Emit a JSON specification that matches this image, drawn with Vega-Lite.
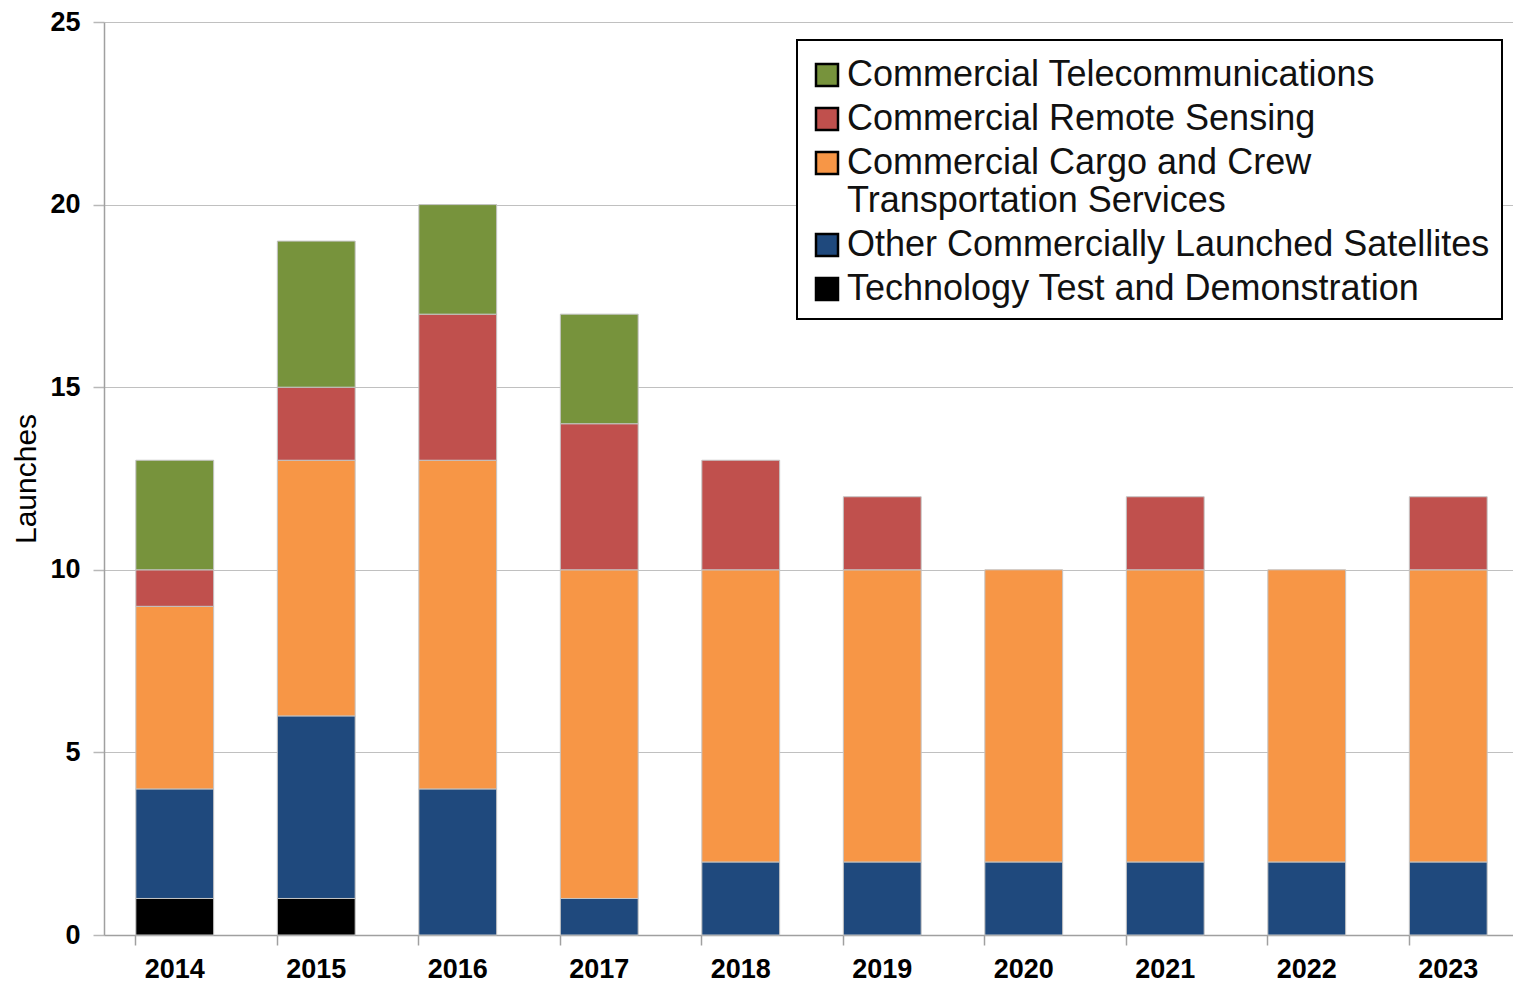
{
  "$schema": "https://vega.github.io/schema/vega-lite/v6.json",
  "autosize": "none",
  "width": 1415,
  "height": 913,
  "padding": {"left": 104, "top": 22, "right": 0, "bottom": 47},
  "background": "white",
  "config": {
    "font": "Liberation Sans",
    "view": {"stroke": null},
    "legend": {"strokeWidth": 2}
  },
  "data": {
    "values": [
      {"year": "2014", "category": "Technology Test and Demonstration", "launches": 1},
      {"year": "2014", "category": "Other Commercially Launched Satellites", "launches": 3},
      {"year": "2014", "category": "Commercial Cargo and Crew Transportation Services", "launches": 5},
      {"year": "2014", "category": "Commercial Remote Sensing", "launches": 1},
      {"year": "2014", "category": "Commercial Telecommunications", "launches": 3},
      {"year": "2015", "category": "Technology Test and Demonstration", "launches": 1},
      {"year": "2015", "category": "Other Commercially Launched Satellites", "launches": 5},
      {"year": "2015", "category": "Commercial Cargo and Crew Transportation Services", "launches": 7},
      {"year": "2015", "category": "Commercial Remote Sensing", "launches": 2},
      {"year": "2015", "category": "Commercial Telecommunications", "launches": 4},
      {"year": "2016", "category": "Other Commercially Launched Satellites", "launches": 4},
      {"year": "2016", "category": "Commercial Cargo and Crew Transportation Services", "launches": 9},
      {"year": "2016", "category": "Commercial Remote Sensing", "launches": 4},
      {"year": "2016", "category": "Commercial Telecommunications", "launches": 3},
      {"year": "2017", "category": "Other Commercially Launched Satellites", "launches": 1},
      {"year": "2017", "category": "Commercial Cargo and Crew Transportation Services", "launches": 9},
      {"year": "2017", "category": "Commercial Remote Sensing", "launches": 4},
      {"year": "2017", "category": "Commercial Telecommunications", "launches": 3},
      {"year": "2018", "category": "Other Commercially Launched Satellites", "launches": 2},
      {"year": "2018", "category": "Commercial Cargo and Crew Transportation Services", "launches": 8},
      {"year": "2018", "category": "Commercial Remote Sensing", "launches": 3},
      {"year": "2019", "category": "Other Commercially Launched Satellites", "launches": 2},
      {"year": "2019", "category": "Commercial Cargo and Crew Transportation Services", "launches": 8},
      {"year": "2019", "category": "Commercial Remote Sensing", "launches": 2},
      {"year": "2020", "category": "Other Commercially Launched Satellites", "launches": 2},
      {"year": "2020", "category": "Commercial Cargo and Crew Transportation Services", "launches": 8},
      {"year": "2021", "category": "Other Commercially Launched Satellites", "launches": 2},
      {"year": "2021", "category": "Commercial Cargo and Crew Transportation Services", "launches": 8},
      {"year": "2021", "category": "Commercial Remote Sensing", "launches": 2},
      {"year": "2022", "category": "Other Commercially Launched Satellites", "launches": 2},
      {"year": "2022", "category": "Commercial Cargo and Crew Transportation Services", "launches": 8},
      {"year": "2023", "category": "Other Commercially Launched Satellites", "launches": 2},
      {"year": "2023", "category": "Commercial Cargo and Crew Transportation Services", "launches": 8},
      {"year": "2023", "category": "Commercial Remote Sensing", "launches": 2}
    ]
  },
  "transform": [
    {"calculate": "datum.category == 'Technology Test and Demonstration' ? 0 : datum.category == 'Other Commercially Launched Satellites' ? 1 : datum.category == 'Commercial Cargo and Crew Transportation Services' ? 2 : datum.category == 'Commercial Remote Sensing' ? 3 : 4", "as": "stackOrder"}
  ],
  "mark": {"type": "bar", "stroke": "#c4c4c4", "strokeWidth": 1},
  "encoding": {
    "x": {
      "field": "year",
      "type": "nominal",
      "scale": {"paddingInner": 0.45, "paddingOuter": 0.225},
      "axis": {
        "title": null,
        "labelAngle": 0,
        "labelFont": "Liberation Sans",
        "labelFontWeight": "bold",
        "labelFontSize": 27,
        "labelColor": "#000000",
        "labelPadding": 11,
        "tickSize": 10,
        "tickColor": "#a0a0a0",
        "tickWidth": 1.5,
        "bandPosition": 0,
        "domainColor": "#a0a0a0",
        "domainWidth": 1.5,
        "grid": false
      }
    },
    "y": {
      "field": "launches",
      "type": "quantitative",
      "stack": "zero",
      "scale": {"domain": [0, 25], "nice": false},
      "axis": {
        "title": "Launches",
        "titleFont": "Liberation Sans",
        "titleFontSize": 30,
        "titleFontWeight": "normal",
        "titleColor": "#000000",
        "titlePadding": 8,
        "values": [0, 5, 10, 15, 20, 25],
        "labelFont": "Liberation Sans",
        "labelFontWeight": "bold",
        "labelFontSize": 27,
        "labelColor": "#000000",
        "labelPadding": 13,
        "tickSize": 11,
        "tickColor": "#b8b8b8",
        "tickWidth": 1.5,
        "domainColor": "#a0a0a0",
        "domainWidth": 1.5,
        "grid": true,
        "gridColor": "#c0c0c0",
        "gridWidth": 1.2
      }
    },
    "fill": {
      "field": "category",
      "type": "nominal",
      "scale": {
        "domain": ["Commercial Telecommunications", "Commercial Remote Sensing", "Commercial Cargo and Crew Transportation Services", "Other Commercially Launched Satellites", "Technology Test and Demonstration"],
        "range": ["#77933c", "#c0504d", "#f79646", "#1f497d", "#000000"]
      },
      "legend": {
        "title": " ",
        "titleFontSize": 1,
        "titlePadding": 4,
        "orient": "none",
        "legendX": 693,
        "legendY": 18,
        "direction": "vertical",
        "strokeColor": "#000000",
        "fillColor": "#ffffff",
        "padding": 12,
        "symbolType": "square",
        "symbolSize": 484,
        "symbolStrokeColor": "#000000",
        "symbolStrokeWidth": 2.5,
        "symbolOpacity": 1,
        "labelFont": "Liberation Sans",
        "labelFontSize": 36,
        "labelColor": "#111111",
        "labelOffset": 2,
        "labelLimit": 2000,
        "rowPadding": 8,
        "labelExpr": "datum.label == 'Commercial Cargo and Crew Transportation Services' ? ['Commercial Cargo and Crew', 'Transportation Services'] : datum.label"
      }
    },
    "order": {"field": "stackOrder", "type": "quantitative", "sort": "ascending"}
  }
}
